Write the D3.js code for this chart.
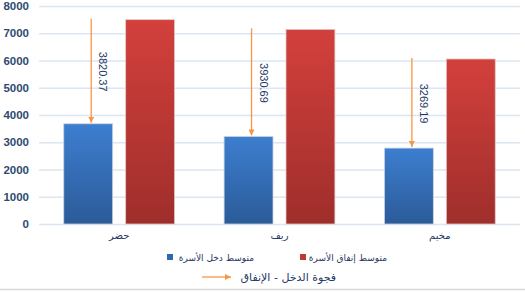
<!DOCTYPE html>
<html>
<head>
<meta charset="utf-8">
<script src="https://cdn.jsdelivr.net/npm/d3@7"></script>
<style>
  body { margin: 0; background: #fff; }
  svg { display: block; }
  .tick text { font-family: "Liberation Sans", Arial, sans-serif; font-weight: bold; font-size: 11.5px; fill: #2e4a72; }
  .ar { font-family: "DejaVu Sans", sans-serif; font-size: 10px; fill: #1f3864; }
</style>
</head>
<body>
<svg id="chart" width="525" height="292"></svg>
<script>
const categories = ['حضر', 'ريف', 'مخيم'];
const income = [3678, 3212, 2786];
const spending = [7498.37, 7142.69, 6055.19];
const gapLabels = ['3820.37', '3930.69', '3269.19'];
const yTicks = [0, 1000, 2000, 3000, 4000, 5000, 6000, 7000, 8000];
const seriesNames = ['متوسط دخل الأسرة', 'متوسط إنفاق الأسرة'];
const gapName = 'فجوة الدخل - الإنفاق';

const svg = d3.select('#chart');
const margin = {top: 6, left: 39, right: 5, bottom: 68};
const width = 525 - margin.left - margin.right;
const height = 292 - margin.top - margin.bottom;

const defs = svg.append('defs');
const grad = (id, top, bottom) => {
  const g = defs.append('linearGradient').attr('id', id)
    .attr('x1', 0).attr('y1', 0).attr('x2', 0).attr('y2', 1);
  g.append('stop').attr('offset', '0%').attr('stop-color', top);
  g.append('stop').attr('offset', '100%').attr('stop-color', bottom);
};
grad('gBlue', '#3d7ed0', '#2b5b98');
grad('gRed', '#d3403c', '#9f2e2b');
defs.append('marker').attr('id', 'head')
  .attr('viewBox', '0 0 10 10').attr('refX', 10).attr('refY', 5)
  .attr('markerWidth', 6).attr('markerHeight', 6).attr('markerUnits', 'userSpaceOnUse')
  .attr('orient', 'auto')
  .append('path').attr('d', 'M0,0L10,5L0,10Z').attr('fill', '#f79646');

const chart = svg.append('g').attr('transform', `translate(${margin.left},${margin.top})`);

const x = d3.scaleBand().domain(categories).range([0, width]);
const sub = d3.scaleBand().domain([0, 1]).range([0, x.bandwidth()])
  .paddingInner(0.21).paddingOuter(0.4);
const y = d3.scaleLinear().domain([0, 8000]).range([height, 0]);

// grid
const yAxis = d3.axisLeft(y).tickValues(yTicks).tickFormat(d3.format('d')).tickSize(-width).tickPadding(10);
const ax = chart.append('g').call(yAxis);
ax.select('.domain').remove();
ax.selectAll('.tick line').attr('stroke', '#dce6f2').attr('stroke-width', 1.3);

// bars
const groups = chart.selectAll('.grp').data(categories).join('g')
  .attr('transform', d => `translate(${x(d)},0)`);

groups.append('rect')
  .attr('x', sub(0)).attr('width', sub.bandwidth())
  .attr('y', (d, i) => y(income[i])).attr('height', (d, i) => y(0) - y(income[i]))
  .attr('fill', 'url(#gBlue)').attr('stroke', '#c9d3e0').attr('stroke-width', 0.8);

groups.append('rect')
  .attr('x', sub(1)).attr('width', sub.bandwidth())
  .attr('y', (d, i) => y(spending[i])).attr('height', (d, i) => y(0) - y(spending[i]))
  .attr('fill', 'url(#gRed)').attr('stroke', '#e0c9c9').attr('stroke-width', 0.8);

// gap arrows
const ax0 = sub(0) + sub.bandwidth() / 2 + 3;
groups.append('line')
  .attr('x1', ax0).attr('x2', ax0)
  .attr('y1', (d, i) => y(spending[i]) - 1).attr('y2', (d, i) => y(income[i]) - 1)
  .attr('stroke', '#f79646').attr('stroke-width', 1.3)
  .attr('marker-end', 'url(#head)');

groups.append('text')
  .attr('transform', (d, i) => `translate(${ax0 + 8},${(y(spending[i]) + y(income[i])) / 2}) rotate(90)`)
  .attr('text-anchor', 'middle')
  .style('font-family', '"Liberation Sans", Arial, sans-serif')
  .style('font-size', '11px').style('fill', '#1f3864')
  .text((d, i) => gapLabels[i]);

// x labels
chart.append('g').selectAll('text').data(categories).join('text')
  .attr('class', 'ar')
  .attr('x', d => x(d) + x.bandwidth() / 2).attr('y', height + 15)
  .attr('text-anchor', 'middle')
  .text(d => d);

// legend
const leg = svg.append('g');
const legItems = [
  {sq: 167, tx: 254, color: '#2f67b3', name: seriesNames[0]},
  {sq: 300, tx: 387, color: '#c0392f', name: seriesNames[1]}
];
legItems.forEach(l => {
  leg.append('rect').attr('x', l.sq).attr('y', 254).attr('width', 6).attr('height', 6).attr('fill', l.color);
  leg.append('text').attr('class', 'ar').attr('x', l.tx).attr('y', 261)
    .attr('text-anchor', 'end').style('font-size', '9px').text(l.name);
});
leg.append('line').attr('x1', 202).attr('x2', 231).attr('y1', 277).attr('y2', 277)
  .attr('stroke', '#f79646').attr('stroke-width', 1.3).attr('marker-end', 'url(#head)');
leg.append('text').attr('class', 'ar').attr('x', 336).attr('y', 281)
  .attr('text-anchor', 'end').style('font-size', '11px').text(gapName);

// bottom border
svg.append('line').attr('x1', 0).attr('x2', 525).attr('y1', 289.5).attr('y2', 289.5)
  .attr('stroke', '#d9d9d9').attr('stroke-width', 1.5);
</script>
</body>
</html>
